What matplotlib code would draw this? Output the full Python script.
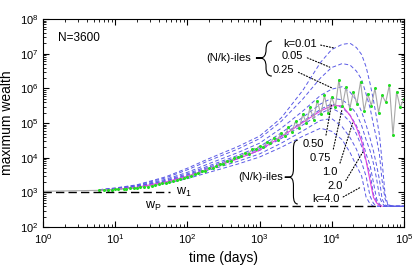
import matplotlib
matplotlib.use('Agg')
import matplotlib.pyplot as plt
import numpy as np
from matplotlib.path import Path
from matplotlib.patches import PathPatch
from matplotlib.ticker import LogLocator, NullFormatter

plt.rcParams['font.family'] = ['Liberation Sans', 'DejaVu Sans']
plt.rcParams['mathtext.default'] = 'regular'

# time grid for the (N/k)-ile curves (days)
t_grid = [6, 10, 20, 50, 100, 200, 500, 1e3, 2e3, 4e3, 7e3, 1e4, 1.4e4, 1.8e4,
          2.2e4, 2.6e4, 3e4, 3.4e4, 3.8e4, 4.2e4, 4.6e4, 5e4, 5.5e4, 6e4, 7e4, 1e5]

k_labels = ['0.01', '0.05', '0.25', '0.50', '0.75', '1.0', '2.0', '4.0']

w_k001 = [1.20e3, 1.35e3, 1.66e3, 2.82e3, 5.0e3, 9.5e3, 2.1e4, 4.2e4, 1.41e5, 8.9e5,
          5.6e6, 1.32e7, 1.86e7, 2.0e7, 1.51e7, 9.5e6, 4.2e6, 1.41e6, 4.5e5, 1.41e5,
          4.5e4, 7.9e3, 890, 450, 400, 400]
w_k005 = [1.20e3, 1.32e3, 1.62e3, 2.63e3, 4.5e3, 8.3e3, 1.78e4, 3.55e4, 1.12e5, 5.0e5,
          2.0e6, 4.0e6, 5.2e6, 4.7e6, 3.16e6, 1.82e6, 6.9e5, 2.8e5, 8.9e4, 3.5e4,
          1.23e4, 2.2e3, 650, 440, 400, 400]
w_k025 = [1.17e3, 1.29e3, 1.55e3, 2.4e3, 3.8e3, 6.8e3, 1.41e4, 2.63e4, 7.1e4, 2.24e5,
          6.3e5, 9.5e5, 1.12e6, 7.8e5, 4.6e5, 2.14e5, 8.9e4, 3.7e4, 1.55e4, 6.0e3,
          2.3e3, 650, 440, 400, 400, 400]
w_k050 = [1.17e3, 1.29e3, 1.51e3, 2.24e3, 3.47e3, 5.9e3, 1.17e4, 2.1e4, 5.2e4, 1.48e5,
          3.55e5, 5.2e5, 4.7e5, 3.16e5, 1.9e5, 8.5e4, 3.3e4, 1.62e4, 6.8e3, 2.45e3,
          760, 490, 400, 400, 400, 400]
w_k075 = [1.17e3, 1.26e3, 1.48e3, 2.14e3, 3.24e3, 5.4e3, 1.05e4, 1.82e4, 4.3e4, 1.12e5,
          2.5e5, 3.6e5, 2.8e5, 1.7e5, 8.5e4, 3.9e4, 1.29e4, 6.2e3, 1.9e3, 650,
          460, 400, 400, 400, 400, 400]
w_k100 = [1.17e3, 1.26e3, 1.45e3, 2.04e3, 3.1e3, 5.0e3, 9.5e3, 1.62e4, 3.6e4, 8.9e4,
          1.9e5, 2.7e5, 1.86e5, 1.07e5, 4.9e4, 2.14e4, 7.9e3, 3.6e3, 870, 550,
          420, 400, 400, 400, 400, 400]
w_k200 = [1.15e3, 1.23e3, 1.41e3, 1.9e3, 2.75e3, 4.4e3, 7.9e3, 1.29e4, 2.63e4, 6.0e4,
          1.2e5, 1.35e5, 7.8e4, 3.8e4, 1.78e4, 7.4e3, 2.9e3, 790, 480, 410,
          400, 400, 400, 400, 400, 400]
w_k400 = [1.15e3, 1.23e3, 1.38e3, 1.82e3, 2.5e3, 3.8e3, 6.6e3, 1.05e4, 2.0e4, 4.2e4,
          7.1e4, 5.8e4, 3.3e4, 1.41e4, 5.9e3, 3.0e3, 740, 470, 400, 400,
          400, 400, 400, 400, 400, 400]

# mean curve (solid magenta), ends where it reaches w_P
w_mean = [1.15e3, 1.23e3, 1.41e3, 2.0e3, 2.95e3, 4.8e3, 9.3e3, 1.66e4, 4.0e4, 1.05e5,
          2.24e5, 3.16e5, 3.16e5, 1.66e5, 7.6e4, 3.0e4, 8.3e3, 2.24e3, 720, 500,
          420, 400]

# simulated maximum wealth
t_max = [1, 6, 7, 8, 9, 10, 11, 13, 14, 16, 18, 20, 22, 25, 28, 32, 35, 40, 45, 50, 56,
         63, 71, 79, 89, 100, 112, 126, 141, 158, 178, 200, 224, 251, 282, 316, 355,
         398, 447, 501, 562, 631, 708, 794, 891, 1000, 1122, 1259, 1413, 1585, 1778,
         1995, 2239, 2512, 2818, 3162, 3548, 3981, 4467, 5012, 5623, 6310, 7079, 7943,
         8913, 10000, 11220, 12590, 14130, 15850, 17780, 19950, 22390, 25120, 28180,
         31620, 35480, 39810, 44670, 50120, 56230, 63100, 70790, 79430, 89130, 100000]
w_max = [1080, 1150, 1175, 1175, 1200, 1230, 1230, 1260, 1290, 1320, 1320, 1380, 1410,
         1480, 1480, 1585, 1620, 1700, 1820, 1860, 2040, 2140, 2240, 2510, 2570, 2880,
         3020, 3390, 3550, 4170, 4270, 5010, 5130, 5750, 6610, 6760, 8320, 7940, 1.0e4,
         1.05e4, 1.15e4, 1.41e4, 1.32e4, 1.78e4, 1.74e4, 2.14e4,
         2.0e4, 2.82e4, 2.63e4, 3.8e4, 3.31e4, 5.25e4, 4.17e4, 7.6e4, 5.62e4, 1.12e5,
         7.08e4, 1.78e5, 1.0e5, 2.82e5, 1.26e5, 4.47e5, 1.78e5, 6.31e5, 2.0e5, 5.62e5,
         2.82e5, 1.78e6, 3.16e5, 1.12e6, 2.51e5, 7.94e5, 3.55e5, 1.58e6, 2.24e5, 7.08e5,
         3.16e5, 1.0e6, 2.0e5, 6.31e5, 3.98e5, 1.26e6, 4.47e4, 7.94e5, 2.82e5, 5.01e5]

w1 = 1000
wP = 400

fig = plt.figure(figsize=(4.15, 2.72), dpi=100)
ax = fig.add_axes([0.104, 0.165, 0.869, 0.765])

all_k = [w_k001, w_k005, w_k025, w_k050, w_k075, w_k100, w_k200, w_k400]
for w in all_k:
    ax.plot(t_grid, w, ls=(0, (4, 2.5)), color='#5a5ae6', lw=0.7)
ax.plot(t_grid[:len(w_mean)], w_mean, color='#e040e0', lw=0.8)

ax.plot(t_max, w_max, color='#a8a8a8', lw=0.8)
ax.plot(t_max[1:], w_max[1:], 'o', ms=2.2, color='#22dd22', mec='none')

# w_1 and w_P levels
ax.plot([1, 57], [w1, w1], color='k', ls=(0, (6, 3)), lw=1.0)
ax.text(69, w1, 'w$_1$', fontsize=9, va='center', ha='left')
ax.plot([52, 4.7e4], [wP, wP], color='k', ls=(0, (6, 3)), lw=1.0)
ax.text(26, wP, 'w$_P$', fontsize=9, va='center', ha='left')

ax.text(0.042, 0.909, 'N=3600', transform=ax.transAxes, fontsize=8.5, va='center')

leader = dict(arrowstyle='-', ls=':', lw=0.8, color='k', shrinkA=1, shrinkB=0, relpos=(1, 0.5))

# upper group of labels
upper = [('k=0.01', (2.11e3, 1.88e7), (1.1e4, 1.45e7)),
         ('0.05', (2.04e3, 8.5e6), (9.4e3, 4.1e6)),
         ('0.25', (1.53e3, 3.3e6), (1.04e4, 1.0e6))]
lower = [('0.50', (4.0e3, 2.45e4), (1.0e4, 3.7e5)),
         ('0.75', (5.0e3, 9.7e3), (1.38e4, 2.3e5)),
         ('1.0', (7.3e3, 3.85e3), (1.95e4, 1.0e5)),
         ('2.0', (8.6e3, 1.5e3), (2.7e4, 1.45e4)),
         ('k=4.0', (5.3e3, 640), (2.5e4, 1.4e3))]
for txt, pos, end in upper + lower:
    ax.annotate(txt, xy=end, xytext=pos, fontsize=8, ha='left', va='center',
                arrowprops=leader)


def brace(ax, x_tip, x_right, y0, y1, ym):
    xm = (x_tip + x_right) / 2
    d = 0.04
    verts = [(x_right, y1), (xm, y1), (xm, y1 - d),
             (xm, ym + d), (xm, ym), (x_tip, ym),
             (x_tip - 0.012, ym), (x_tip, ym),
             (xm, ym), (xm, ym - d),
             (xm, y0 + d), (xm, y0), (x_right, y0)]
    codes = [Path.MOVETO, Path.CURVE3, Path.CURVE3,
             Path.LINETO, Path.CURVE3, Path.CURVE3,
             Path.LINETO, Path.LINETO,
             Path.CURVE3, Path.CURVE3,
             Path.LINETO, Path.CURVE3, Path.CURVE3]
    ax.add_patch(PathPatch(Path(verts, codes), transform=ax.transAxes,
                           fill=False, lw=0.8, color='k', clip_on=False))


brace(ax, 0.602, 0.634, 0.726, 0.894, 0.8125)
ax.text(0.575, 0.8125, '(N/k)-iles', transform=ax.transAxes, fontsize=8,
        ha='right', va='center')
brace(ax, 0.682, 0.706, 0.111, 0.418, 0.240)
ax.text(0.665, 0.240, '(N/k)-iles', transform=ax.transAxes, fontsize=8,
        ha='right', va='center')

ax.set_xscale('log')
ax.set_yscale('log')
ax.set_xlim(1, 1e5)
ax.set_ylim(1e2, 1e8)
ax.xaxis.set_minor_locator(LogLocator(subs=np.arange(2, 10), numticks=20))
ax.yaxis.set_minor_locator(LogLocator(subs=np.arange(2, 10), numticks=20))
ax.xaxis.set_minor_formatter(NullFormatter())
ax.yaxis.set_minor_formatter(NullFormatter())
ax.tick_params(which='both', direction='in', top=True, right=True, labelsize=8)
ax.tick_params(which='major', length=4)
ax.tick_params(which='minor', length=2)
for s in ax.spines.values():
    s.set_linewidth(0.8)

ax.set_xlabel('time (days)', fontsize=10)
ax.set_ylabel('maximum wealth', fontsize=10)

fig.savefig('out.png', dpi=100)
